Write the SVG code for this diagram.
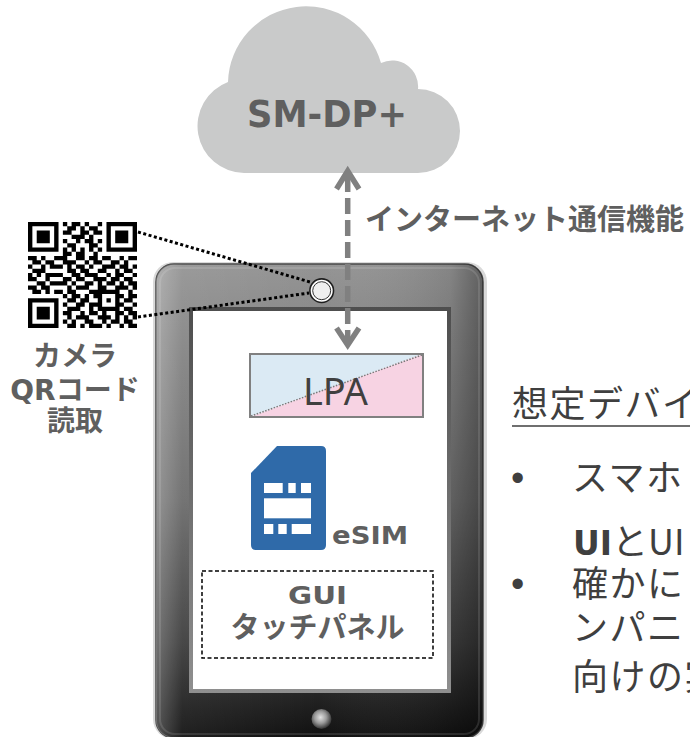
<svg xmlns="http://www.w3.org/2000/svg" width="690" height="737" viewBox="0 0 690 737">
  <defs>
    <linearGradient id="bodyV" x1="0" y1="0" x2="0" y2="1">
      <stop offset="0" stop-color="#949494"/>
      <stop offset="0.15" stop-color="#868686"/>
      <stop offset="0.5" stop-color="#6b6b6b"/>
      <stop offset="0.8" stop-color="#3c3c3c"/>
      <stop offset="1" stop-color="#101010"/>
    </linearGradient>
    <linearGradient id="bodyH" x1="0" y1="0" x2="1" y2="0">
      <stop offset="0" stop-color="#ffffff" stop-opacity="0.28"/>
      <stop offset="0.08" stop-color="#ffffff" stop-opacity="0.06"/>
      <stop offset="0.5" stop-color="#ffffff" stop-opacity="0"/>
      <stop offset="0.9" stop-color="#000000" stop-opacity="0.1"/>
      <stop offset="1" stop-color="#000000" stop-opacity="0.35"/>
    </linearGradient>
    <linearGradient id="bezel" x1="0" y1="0" x2="0" y2="1">
      <stop offset="0" stop-color="#4e4e4e"/>
      <stop offset="1" stop-color="#8f8f8f"/>
    </linearGradient>
    <radialGradient id="homeBtn" cx="0.45" cy="0.42" r="0.6">
      <stop offset="0" stop-color="#e2e2e2"/>
      <stop offset="0.5" stop-color="#9a9a9a"/>
      <stop offset="1" stop-color="#2a2a2a"/>
    </radialGradient>
    <style>
      .lbl { font-family: 'DejaVu Sans', 'Noto Sans CJK JP', sans-serif; font-weight: bold; fill: #5f5f5f; }
      .jp { font-family: 'Noto Sans CJK JP', sans-serif; }
      .note { font-family: 'Noto Sans CJK JP', sans-serif; font-size: 36px; fill: #3f3f3f; letter-spacing: 1.5px; }
      .bullet { font-family: 'Liberation Sans', sans-serif; font-size: 38px; fill: #3f3f3f; }
      .dots { fill: none; stroke: #000; stroke-width: 3; stroke-dasharray: 3 2.5; }
      .link { fill: none; stroke: #808080; stroke-width: 5.5; }
    </style>
  </defs>

  <rect width="690" height="737" fill="#ffffff"/>

  <!-- cloud server -->
  <g id="sm-dp">
    <path d="M244 173 A47 47 0 0 1 228 82 A78 78 0 0 1 381 63 A26 26 0 0 1 418 89 A42 42 0 0 1 418 173 Z" fill="#c9caca"/>
    <text class="lbl" x="327" y="127" font-size="37" text-anchor="middle" textLength="160" lengthAdjust="spacingAndGlyphs" fill="#616161">SM-DP+</text>
  </g>

  <!-- QR code -->
  <g id="qr">
    <path transform="translate(28 222) scale(4.36 4.24)" fill="#000" d="
      M0 0h7v1h-7z M8 0h1v1h-1z M10 0h2v1h-2z M13 0h1v1h-1z M16 0h1v1h-1z M18 0h7v1h-7z
      M0 1h1v1h-1z M6 1h1v1h-1z M9 1h2v1h-2z M12 1h1v1h-1z M14 1h2v1h-2z M18 1h1v1h-1z M24 1h1v1h-1z
      M0 2h1v1h-1z M2 2h3v1h-3z M6 2h1v1h-1z M8 2h2v1h-2z M12 2h2v1h-2z M15 2h2v1h-2z M18 2h1v1h-1z M20 2h3v1h-3z M24 2h1v1h-1z
      M0 3h1v1h-1z M2 3h3v1h-3z M6 3h1v1h-1z M10 3h3v1h-3z M14 3h1v1h-1z M18 3h1v1h-1z M20 3h3v1h-3z M24 3h1v1h-1z
      M0 4h1v1h-1z M2 4h3v1h-3z M6 4h1v1h-1z M8 4h1v1h-1z M11 4h1v1h-1z M13 4h2v1h-2z M16 4h1v1h-1z M18 4h1v1h-1z M20 4h3v1h-3z M24 4h1v1h-1z
      M0 5h1v1h-1z M6 5h1v1h-1z M9 5h2v1h-2z M14 5h2v1h-2z M18 5h1v1h-1z M24 5h1v1h-1z
      M0 6h7v1h-7z M8 6h1v1h-1z M10 6h1v1h-1z M12 6h1v1h-1z M14 6h1v1h-1z M16 6h1v1h-1z M18 6h7v1h-7z
      M8 7h2v1h-2z M11 7h2v1h-2z M15 7h1v1h-1z
      M0 8h2v1h-2z M3 8h1v1h-1z M6 8h3v1h-3z M11 8h2v1h-2z M14 8h2v1h-2z M17 8h2v1h-2z M21 8h1v1h-1z M23 8h2v1h-2z
      M1 9h2v1h-2z M4 9h2v1h-2z M8 9h3v1h-3z M13 9h1v1h-1z M15 9h2v1h-2z M19 9h2v1h-2z M22 9h1v1h-1z
      M0 10h1v1h-1z M3 10h1v1h-1z M5 10h3v1h-3z M9 10h1v1h-1z M11 10h2v1h-2z M14 10h1v1h-1z M17 10h3v1h-3z M21 10h2v1h-2z M24 10h1v1h-1z
      M1 11h3v1h-3z M9 11h2v1h-2z M12 11h2v1h-2z M16 11h2v1h-2z M20 11h1v1h-1z M22 11h2v1h-2z
      M0 12h1v1h-1z M2 12h1v1h-1z M4 12h4v1h-4z M10 12h2v1h-2z M13 12h3v1h-3z M18 12h1v1h-1z M20 12h2v1h-2z M24 12h1v1h-1z
      M0 13h2v1h-2z M4 13h1v1h-1z M8 13h2v1h-2z M11 13h2v1h-2z M15 13h3v1h-3z M19 13h2v1h-2z M22 13h2v1h-2z
      M2 14h2v1h-2z M5 14h4v1h-4z M10 14h1v1h-1z M13 14h2v1h-2z M16 14h1v1h-1z M18 14h2v1h-2z M21 14h1v1h-1z M23 14h2v1h-2z
      M0 15h2v1h-2z M3 15h2v1h-2z M9 15h1v1h-1z M11 15h3v1h-3z M16 15h2v1h-2z M20 15h3v1h-3z M24 15h1v1h-1z
      M1 16h2v1h-2z M4 16h1v1h-1z M6 16h2v1h-2z M9 16h2v1h-2z M14 16h7v1h-7z M23 16h1v1h-1z
      M8 17h1v1h-1z M10 17h2v1h-2z M13 17h1v1h-1z M15 17h2v1h-2z M20 17h2v1h-2z M23 17h2v1h-2z
      M0 18h7v1h-7z M9 18h2v1h-2z M12 18h2v1h-2z M16 18h1v1h-1z M18 18h1v1h-1z M20 18h1v1h-1z M22 18h2v1h-2z
      M0 19h1v1h-1z M6 19h1v1h-1z M8 19h1v1h-1z M11 19h2v1h-2z M14 19h3v1h-3z M20 19h2v1h-2z M24 19h1v1h-1z
      M0 20h1v1h-1z M2 20h3v1h-3z M6 20h1v1h-1z M9 20h3v1h-3z M14 20h1v1h-1z M16 20h5v1h-5z M22 20h2v1h-2z
      M0 21h1v1h-1z M2 21h3v1h-3z M6 21h1v1h-1z M8 21h2v1h-2z M12 21h1v1h-1z M14 21h2v1h-2z M17 21h1v1h-1z M20 21h2v1h-2z M23 21h2v1h-2z
      M0 22h1v1h-1z M2 22h3v1h-3z M6 22h1v1h-1z M9 22h1v1h-1z M11 22h3v1h-3z M16 22h3v1h-3z M20 22h1v1h-1z M22 22h1v1h-1z M24 22h1v1h-1z
      M0 23h1v1h-1z M6 23h1v1h-1z M8 23h1v1h-1z M10 23h1v1h-1z M13 23h2v1h-2z M17 23h1v1h-1z M19 23h2v1h-2z M22 23h2v1h-2z
      M0 24h7v1h-7z M9 24h2v1h-2z M12 24h1v1h-1z M14 24h3v1h-3z M18 24h1v1h-1z M21 24h1v1h-1z M23 24h2v1h-2z"/>
  </g>

  <g id="qr-label" class="lbl" font-size="28" text-anchor="middle">
    <text x="75" y="366">カメラ</text>
    <text x="75" y="400">QRコード</text>
    <text x="75" y="431">読取</text>
  </g>

  <!-- tablet body -->
  <g id="tablet">
    <rect x="153" y="262" width="334" height="477" rx="20" fill="#d9d9d9"/>
    <rect x="156" y="264" width="327" height="474" rx="18" fill="url(#bodyV)" stroke="#474747" stroke-width="1.5"/>
    <rect x="156" y="264" width="327" height="474" rx="18" fill="url(#bodyH)"/>
    <rect x="160" y="268" width="319" height="466" rx="15" fill="none" stroke="#ffffff" stroke-opacity="0.12" stroke-width="2"/>
    <rect x="189" y="307" width="262" height="386" fill="url(#bezel)"/>
    <rect x="193" y="311" width="254" height="378" fill="#ffffff"/>
    <circle cx="321.5" cy="719" r="10" fill="url(#homeBtn)"/>
  </g>

  <g id="camera">
    <circle cx="321.7" cy="290.7" r="11.8" fill="#ffffff" stroke="#1e1e1e" stroke-width="1.6"/>
    <circle cx="321.7" cy="290.7" r="9" fill="#efefef" stroke="#333333" stroke-width="1"/>
  </g>

  <!-- LPA -->
  <g id="lpa">
    <polygon points="250,354 423,354 250,417" fill="#dbeaf4"/>
    <polygon points="423,354 423,417 250,417" fill="#f7d3e3"/>
    <line x1="422" y1="355" x2="251" y2="416" stroke="#7a7a7a" stroke-width="1.5" stroke-dasharray="1.5 1.5"/>
    <rect x="250" y="354" width="173" height="63" fill="none" stroke="#808080" stroke-width="2"/>
    <text x="335.5" y="405" font-family="'Noto Sans', 'Liberation Sans', sans-serif" font-size="38" fill="#404040" text-anchor="middle" textLength="65" lengthAdjust="spacingAndGlyphs">LPA</text>
  </g>

  <!-- eSIM -->
  <g id="esim">
    <path d="M256 550 Q251 550 251 545 L251 473 L277 446 L321 446 Q326 446 326 451 L326 545 Q326 550 321 550 Z" fill="#2f6aa9"/>
    <g fill="#ffffff">
      <rect x="264" y="483" width="18.7" height="10"/>
      <rect x="288.3" y="483" width="7.4" height="10"/>
      <rect x="301" y="483" width="10" height="10"/>
      <rect x="264" y="498.3" width="47" height="20"/>
      <rect x="264" y="524" width="9.3" height="10"/>
      <rect x="278.3" y="524" width="8.4" height="10"/>
      <rect x="291.7" y="524" width="19.3" height="10"/>
    </g>
    <text class="lbl" x="332" y="543.5" font-size="25" textLength="76" lengthAdjust="spacingAndGlyphs">eSIM</text>
  </g>

  <!-- touch panel -->
  <g id="gui">
    <rect x="202" y="571" width="231" height="87" fill="none" stroke="#000" stroke-width="1.5" stroke-dasharray="4 2.5"/>
    <text class="lbl" x="317.5" y="604" font-size="25" text-anchor="middle" textLength="59" lengthAdjust="spacingAndGlyphs">GUI</text>
    <text class="lbl" x="317.5" y="638" font-size="29" text-anchor="middle">タッチパネル</text>
  </g>

  <!-- connectors -->
  <g id="connectors">
    <line class="dots" x1="138" y1="232" x2="310" y2="282"/>
    <line class="dots" x1="138" y1="317" x2="309" y2="293"/>
    <line class="link" x1="347.7" y1="176" x2="347.7" y2="340" stroke-dasharray="16 6"/>
    <path class="link" d="M336.5 189 L347.7 171 L359 189"/>
    <path class="link" d="M336.5 328 L347.7 345 L359 328"/>
  </g>

  <g id="link-label">
    <text class="lbl" x="365" y="230" font-size="29" fill="#5a5a5a">インターネット通信機能</text>
  </g>

  <!-- notes -->
  <g id="notes">
    <text class="note" x="512" y="417">想定デバイ</text>
    <line x1="512" y1="426" x2="690" y2="426" stroke="#3f3f3f" stroke-width="1.6"/>
    <text class="bullet" x="511" y="491">•</text>
    <text class="note" x="572" y="491">スマホ</text>
    <text class="note" x="573" y="555" style="letter-spacing:0"><tspan font-family="'DejaVu Sans', sans-serif" font-weight="bold" font-size="33">UI</tspan><tspan>とUI</tspan></text>
    <text class="bullet" x="511" y="597">•</text>
    <text class="note" x="572" y="597">確かに</text>
    <text class="note" x="572" y="641">ンパニ</text>
    <text class="note" x="572" y="690">向けの実</text>
  </g>
</svg>
